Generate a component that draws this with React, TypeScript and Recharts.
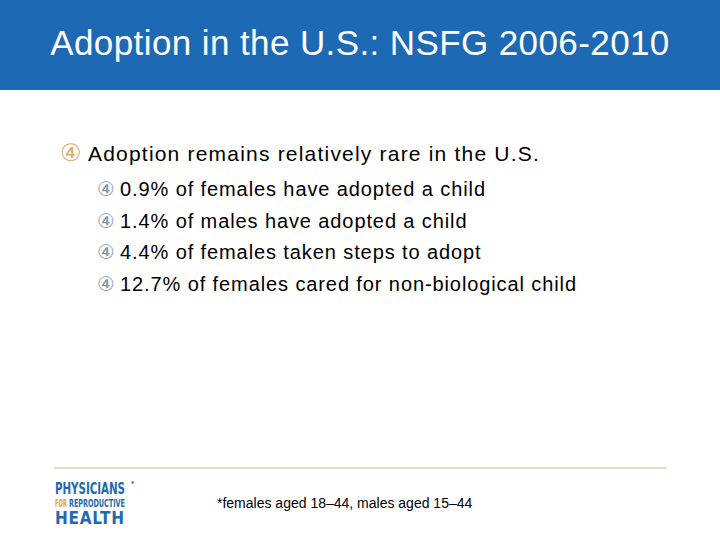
import { Surface, Layer, Text } from "recharts";

const title = "Adoption in the U.S.: NSFG 2006-2010";
const headline = "Adoption remains relatively rare in the U.S.";
const shares = [0.9, 1.4, 4.4, 12.7];
const groups = [
  "females have adopted a child",
  "males have adopted a child",
  "females taken steps to adopt",
  "females cared for non-biological child",
];
const footnote = "*females aged 18\u201344, males aged 15\u201344";

const W = 720;
const H = 540;
const FONT = "'Liberation Sans', Arial, sans-serif";
const BULLET = "\u2463";

export default function App() {
  return (
    <div style={{ position: "fixed", left: 0, top: 0, width: W, height: H, background: "#fff" }}>
      <Surface width={W} height={H}>
        {/* header band */}
        <rect x={0} y={0} width={W} height={90} fill="#1e69b3" />
        <Text
          x={360}
          y={55}
          textAnchor="middle"
          fontSize={35}
          fontFamily={FONT}
          fill="#ffffff"
          style={{ letterSpacing: 0.4 }}
        >
          {title}
        </Text>

        {/* main bullet */}
        <Layer>
          <Text x={60} y={161} fontSize={24} fontFamily="'DejaVu Sans', sans-serif" fill="#d9ae72">
            {BULLET}
          </Text>
          <Text x={88} y={161} fontSize={21} fontFamily={FONT} fill="#000" style={{ letterSpacing: 1.2 }}>
            {headline}
          </Text>
        </Layer>

        {/* sub bullets */}
        {shares.map((v, i) => {
          const y = 196 + i * 31.7;
          return (
            <Layer key={groups[i]}>
              <Text x={97} y={y} fontSize={20} fontFamily="'DejaVu Sans', sans-serif" fill="#7f93a6">
                {BULLET}
              </Text>
              <Text x={120} y={y} fontSize={20} fontFamily={FONT} fill="#000" style={{ letterSpacing: 0.9 }}>
                {`${v}% of ${groups[i]}`}
              </Text>
            </Layer>
          );
        })}

        {/* footer rule */}
        <line x1={54} x2={667} y1={468} y2={468} stroke="#c9bc86" strokeWidth={1.2} />

        {/* logo */}
        <g fontFamily="'Liberation Sans Narrow', 'DejaVu Sans Condensed', sans-serif" fontWeight="bold">
          <text x={55} y={494} fontSize={16} fill="#2468b0" textLength={70} lengthAdjust="spacingAndGlyphs">
            PHYSICIANS
          </text>
          <text x={131} y={486} fontSize={7} fill="#2468b0">
            *
          </text>
          <text x={55} y={507} fontSize={11} fill="#f2a52a" textLength={12} lengthAdjust="spacingAndGlyphs">
            FOR
          </text>
          <text x={69} y={507} fontSize={11} fill="#2468b0" textLength={56} lengthAdjust="spacingAndGlyphs">
            REPRODUCTIVE
          </text>
          <text x={55} y={524} fontSize={17} fill="#2468b0" textLength={69} lengthAdjust="spacing">
            HEALTH
          </text>
        </g>

        <Text x={217} y={508} fontSize={14} fontFamily={FONT} fill="#000">
          {footnote}
        </Text>
      </Surface>
    </div>
  );
}
